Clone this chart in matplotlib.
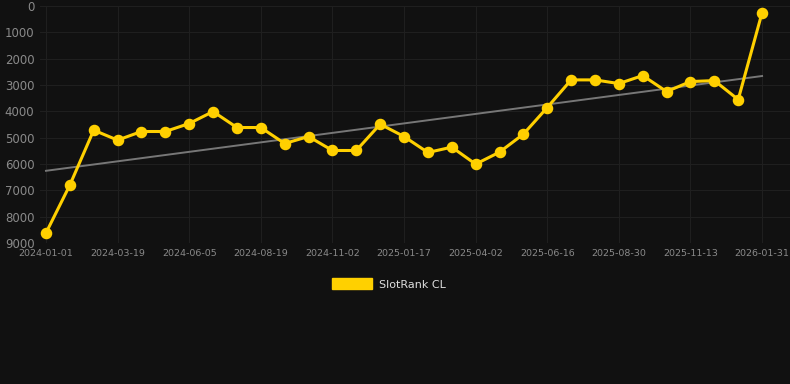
import numpy as np
import matplotlib
matplotlib.use("Agg")
import matplotlib.pyplot as plt
from matplotlib.patches import Patch

# ===============================
# DATA
# ===============================

tick_labels = ["2024-01-01", "2024-03-19", "2024-06-05", "2024-08-19", "2024-11-02",
               "2025-01-17", "2025-04-02", "2025-06-16", "2025-08-30", "2025-11-13",
               "2026-01-31"]

ranks = [8620, 6800, 4715, 5093, 4766, 4766, 4463, 4008, 4615, 4615,
         5222, 4956, 5487, 5487, 4488, 4956, 5563, 5360, 6005, 5550,
         4867, 3856, 2806, 2806, 2946, 2642, 3249, 2870, 2832, 3553,
         253]

series_name = "SlotRank CL"

# ===============================
# PLOT
# ===============================

BG = "#111111"
YELLOW = "#FFD000"

x = np.arange(len(ranks))
slope, intercept = np.polyfit(x, ranks, 1)

fig = plt.figure(figsize=(7.9, 3.84), dpi=100, facecolor=BG)
ax = fig.add_axes([40 / 790, 141 / 384, 750 / 790, 237 / 384], facecolor=BG)

# trend line + series
ax.plot(x, slope * x + intercept, color="#777777", linewidth=1.4, zorder=2)
ax.plot(x, ranks, color=YELLOW, linewidth=2.2, marker="o", markersize=7.3, zorder=3)

ax.set_ylim(9000, 0)
ax.set_xlim(-0.25, 31.17)
ax.set_yticks(range(0, 9001, 1000))
ax.set_xticks(x[::3])
ax.set_xticklabels(tick_labels)

ax.grid(True, color="#1f1f1f", linewidth=0.8)
ax.set_axisbelow(True)
for s in ax.spines.values():
    s.set_visible(False)
ax.tick_params(axis="both", length=0)
ax.tick_params(axis="y", labelsize=8.5, labelcolor="#8a8a8a", pad=4)
ax.tick_params(axis="x", labelsize=6.8, labelcolor="#8a8a8a", pad=4)

handle = Patch(facecolor=YELLOW, edgecolor=YELLOW)
fig.legend([handle], [series_name], loc="center", bbox_to_anchor=(389 / 790, 1 - 284 / 384),
           frameon=False, handlelength=3.6, handleheight=1.1, fontsize=8,
           labelcolor="#dddddd", handletextpad=0.6)

fig.savefig("out.png", dpi=100, facecolor=BG)
